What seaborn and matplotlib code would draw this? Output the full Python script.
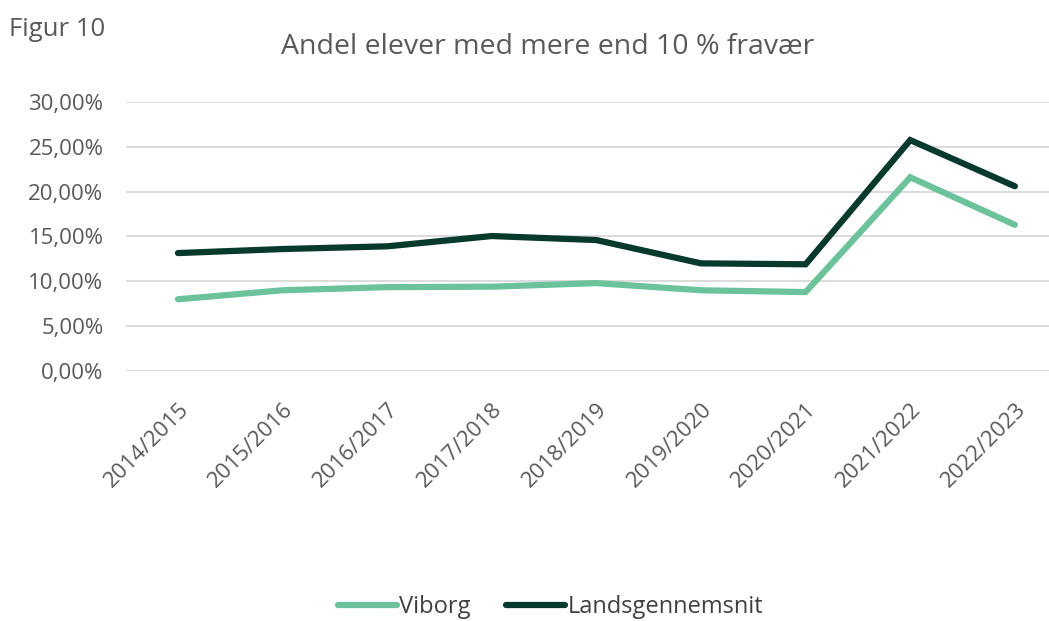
import numpy as np
import pandas as pd
import matplotlib
matplotlib.use("Agg")
import matplotlib.pyplot as plt
import seaborn as sns
from matplotlib.ticker import FuncFormatter
from matplotlib.lines import Line2D

categories = ["2014/2015", "2015/2016", "2016/2017", "2017/2018", "2018/2019",
              "2019/2020", "2020/2021", "2021/2022", "2022/2023"]
viborg = [8.0, 9.0, 9.35, 9.4, 9.8, 9.0, 8.8, 21.6, 16.3]
lands = [13.15, 13.6, 13.9, 15.05, 14.6, 12.0, 11.9, 25.75, 20.6]
series_names = ["Viborg", "Landsgennemsnit"]
colors = ["#6cc39b", "#07392c"]
yticks = [0, 5, 10, 15, 20, 25, 30]

df = pd.DataFrame({
    "x": list(range(len(categories))) * 2,
    "value": viborg + lands,
    "series": [series_names[0]] * len(categories) + [series_names[1]] * len(categories),
})

sns.set_theme(style="white")
plt.rcParams['font.family'] = ['Open Sans', 'DejaVu Sans']
text_color = "#595959"

fig = plt.figure(figsize=(10.49, 6.21), dpi=100)
ax = fig.add_axes([0.1198, 0.4026, 0.8975, 0.4332])

sns.lineplot(data=df, x="x", y="value", hue="series", palette=colors,
             linewidth=4.5, ax=ax, legend=False, solid_capstyle="round",
             solid_joinstyle="miter")

ax.set_xlim(-0.5, len(categories) - 0.5)
ax.set_ylim(0, 30)
ax.set_yticks(yticks)
ax.yaxis.set_major_formatter(FuncFormatter(lambda v, p: f"{v:.2f}".replace(".", ",") + "%"))
ax.set_xticks(range(len(categories)))
ax.set_xticklabels(categories, rotation=45, ha="right", rotation_mode="anchor")
ax.grid(axis="y", color="#d9d9d9", linewidth=1.3)
ax.grid(axis="x", visible=False)
for s in ax.spines.values():
    s.set_visible(False)
ax.tick_params(axis="both", length=0, labelsize=16, colors=text_color)
ax.tick_params(axis="y", pad=16)
ax.tick_params(axis="x", pad=20)
ax.set_xlabel("")
ax.set_ylabel("")

fig.text(0.522, 0.925, "Andel elever med mere end 10 % fravær", ha="center", va="center",
         fontsize=20.5, color=text_color)
fig.text(0.009, 0.952, "Figur 10", ha="left", va="center", fontsize=18.5, color=text_color)

handles = [Line2D([0], [0], color=c, lw=4.5, solid_capstyle="round") for c in colors]
fig.legend(handles, series_names, loc="center", bbox_to_anchor=(0.525, 0.022),
           ncol=2, frameon=False, fontsize=17, handlelength=2.5, handletextpad=0.1,
           columnspacing=1.5, labelcolor="#404040")

fig.savefig("out.png", dpi=100, facecolor="white")
